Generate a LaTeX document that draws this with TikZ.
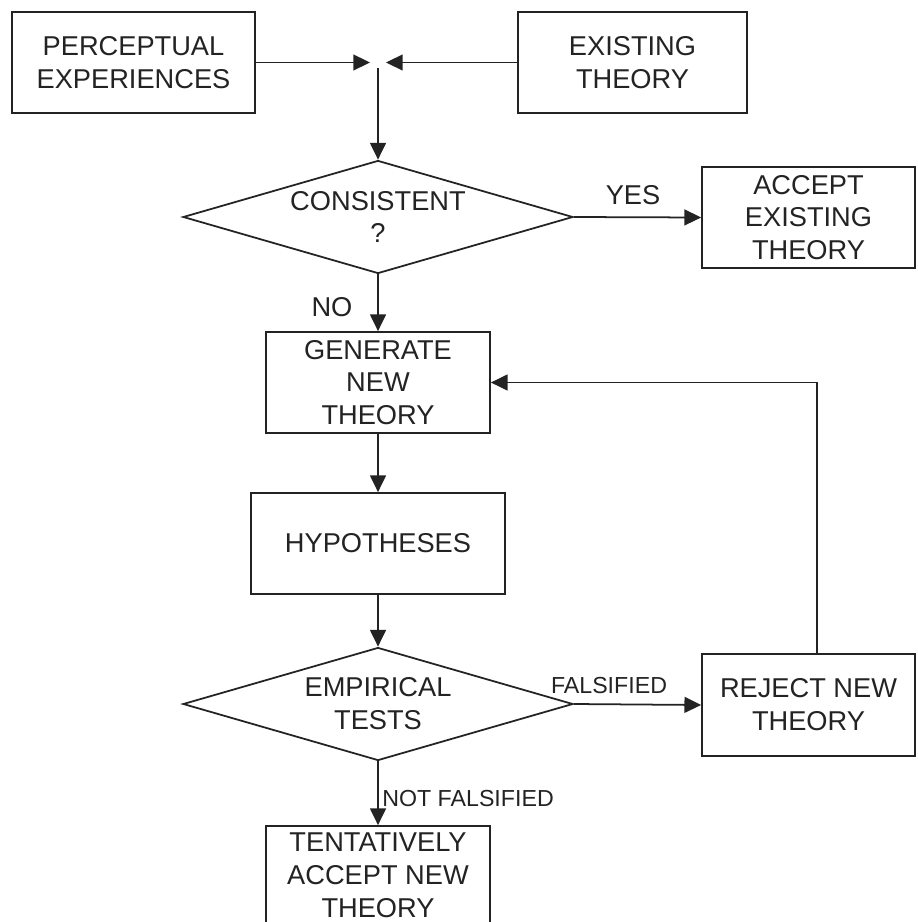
\documentclass[tikz,border=0pt]{standalone}
\usepackage{fontspec}
\setmainfont{Liberation Sans}
\usetikzlibrary{shapes.geometric,arrows.meta}
\definecolor{ink}{RGB}{35,35,35}
\tikzset{
  base/.style={draw=ink, line width=1pt, text=ink, align=center,
    font=\fontsize{15.5}{18.7}\selectfont, inner sep=0pt},
  procbox/.style={base, rectangle, minimum height=2.02cm},
  decision/.style={base, diamond, aspect=3.42, minimum width=7.8cm, minimum height=2.26cm},
  arr/.style={draw=ink, line width=1pt, -{Triangle[length=9.5pt,width=9pt]}},
  flowlabel/.style={text=ink, inner sep=0pt, font=\fontsize{15.5}{18.7}\selectfont},
  smalllabel/.style={text=ink, inner sep=0pt, font=\fontsize{13.2}{16}\selectfont}
}
\begin{document}
\begin{tikzpicture}[x=0.02cm,y=-0.02cm]
  \useasboundingbox (0,0) rectangle (917,922);
  \clip (0,0) rectangle (917,922);
  \fill[white] (0,0) rectangle (917,922);

  % boxes and decisions
  \node[procbox, minimum width=4.86cm] (pe) at (133.5,62.5) {PERCEPTUAL\\EXPERIENCES};
  \node[procbox, minimum width=4.58cm] (et) at (632.5,62.5) {EXISTING\\THEORY};
  \coordinate (meet) at (378,62.5);
  \node[decision] (c) at (378,217) {CONSISTENT\\?};
  \node[procbox, minimum width=4.26cm] (aet) at (808.5,217.5) {ACCEPT\\EXISTING\\THEORY};
  \node[procbox, minimum width=4.48cm] (g) at (378,382.5) {GENERATE\\NEW\\THEORY};
  \node[procbox, minimum width=5.08cm] (h) at (378,543.5) {HYPOTHESES};
  \node[decision] (e) at (378,704) {EMPIRICAL\\TESTS};
  \node[procbox, minimum width=4.26cm, minimum height=2.04cm] (r) at (808.5,705) {REJECT NEW\\THEORY};
  % last box runs past the lower edge of the page
  \node[procbox, minimum width=4.48cm, minimum height=1.96cm] (t) at (378,875)
    {TENTATIVELY\\ACCEPT NEW\\THEORY};

  % connectors
  \draw[arr, shorten >=0.16cm] (pe.east) -- (meet);
  \draw[arr, shorten >=0.16cm] (et.west) -- (meet);
  \draw[arr, shorten <=0.12cm] (meet) -- (c.north);
  \draw[arr] (c.east) -- (aet.west);
  \draw[arr] (c.south) -- (g.north);
  \draw[arr] (g.south) -- (h.north);
  \draw[arr] (h.south) -- (e.north);
  \draw[arr] (e.east) -- (r.west);
  \draw[arr] (e.south) -- (t.north);
  \draw[arr] ([xshift=0.17cm]r.north) |- (g.east);

  % connector labels
  \node[flowlabel] (yes) at (633,195) {YES};
  \node[flowlabel] (no) at (332,307) {NO};
  \node[smalllabel] (fals) at (609,686) {FALSIFIED};
  \node[smalllabel, anchor=west] (notfals) at (382,799) {NOT FALSIFIED};
\end{tikzpicture}
\end{document}
